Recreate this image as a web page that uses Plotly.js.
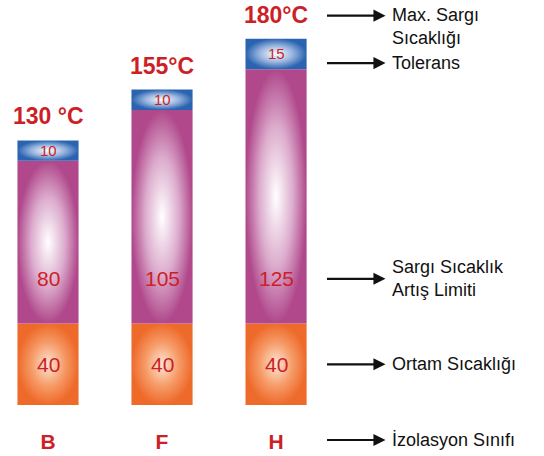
<!DOCTYPE html>
<html>
<head>
<meta charset="utf-8">
<script src="https://cdn.plot.ly/plotly-3.0.1.min.js"></script>
<style>html,body{margin:0;padding:0;background:#fff;}#chart{width:544px;height:456px;}</style>
</head>
<body>
<div id="chart"></div>
<script>
// ---- data ----
const classes = ['B', 'F', 'H'];
const ambient = [40, 40, 40];
const rise = [80, 105, 125];
const tolerance = [10, 10, 15];
const maxTempLabels = ['130 °C', '155°C', '180°C'];
const sideLabels = ['Max. Sargı<br>Sıcaklığı', 'Tolerans', 'Sargı Sıcaklık<br>Artış Limiti', 'Ortam Sıcaklığı', 'İzolasyon Sınıfı'];

// ---- styles ----
const RED = '#cc1f27';
const FONT = 'Arial, "Liberation Sans", sans-serif';
const halfW = 0.268;
const yMax = 199;
const pxPerUnit = 405 / yMax;
const segStyles = [
  [[0, '#fde6d6'], [0.55, '#f69a66'], [1, '#ee6a2b']],
  [[0, '#ffffff'], [0.55, '#dcaccd'], [1, '#b0488b']],
  [[0, '#ffffff'], [0.55, '#97b3de'], [1, '#2a64b0']]
];

const traces = [];
const annotations = [];
classes.forEach((c, i) => {
  const segs = [ambient[i], rise[i], tolerance[i]];
  let base = 0;
  segs.forEach((v, k) => {
    const top = base + v;
    traces.push({
      type: 'scatter', mode: 'lines',
      x: [i - halfW, i + halfW, i + halfW, i - halfW, i - halfW],
      y: [base, base, top, top, base],
      fill: 'toself', line: {width: 0},
      fillgradient: {type: 'radial', colorscale: segStyles[k]},
      hoverinfo: 'skip'
    });
    const ly = k === 1 ? base + 22 : base + v / 2;
    annotations.push({
      x: i, y: ly, xref: 'x', yref: 'y', text: String(v), showarrow: false,
      font: {family: FONT, size: k === 2 ? 15 : 21, color: RED}
    });
    base = top;
  });
  annotations.push({
    x: i, y: base, xref: 'x', yref: 'y', yanchor: 'bottom', yshift: 9,
    text: maxTempLabels[i], showarrow: false,
    font: {family: FONT, size: 23, color: RED, weight: 'bold'}
  });
});

// right side explanation arrows, referenced to the last class (H)
const h = classes.length - 1;
const hTop = ambient[h] + rise[h] + tolerance[h];
const arrowPos = [
  {y: hTop + 23 / pxPerUnit, yref: 'y', yshift: 0},
  {y: ambient[h] + rise[h] + tolerance[h] * 0.2, yref: 'y', yshift: 0},
  {y: ambient[h] + 22, yref: 'y', yshift: 0},
  {y: ambient[h] / 2, yref: 'y', yshift: 0},
  {y: 0, yref: 'paper', yshift: -35}
];
const headX = 2.96, textX = 3.0;
sideLabels.forEach((t, j) => {
  const p = arrowPos[j];
  annotations.push({
    x: headX, y: p.y, xref: 'x', yref: p.yref, yshift: p.yshift,
    ax: -60, ay: 0, text: '', showarrow: true,
    arrowhead: 2, arrowsize: 1.1, arrowwidth: 2.2, arrowcolor: '#111', standoff: 0
  });
  annotations.push({
    x: textX, y: p.y, xref: 'x', yref: p.yref,
    xanchor: 'left', yanchor: (j === 0) ? 'top' : 'middle',
    yshift: p.yshift + ((j === 0) ? 13 : 0),
    align: 'left', text: t, showarrow: false,
    font: {family: FONT, size: 18, color: '#111'}
  });
});

const layout = {
  width: 544, height: 456,
  margin: {l: 0, r: 0, t: 0, b: 51},
  paper_bgcolor: '#fff', plot_bgcolor: '#fff',
  showlegend: false,
  xaxis: {
    range: [-0.421, 4.35], showgrid: false, zeroline: false, showline: false,
    tickvals: classes.map((c, i) => i), ticktext: classes, ticks: '',
    ticklabelstandoff: 22,
    tickfont: {family: FONT, size: 21, color: RED, weight: 'bold'},
    fixedrange: true
  },
  yaxis: {range: [0, yMax], visible: false, fixedrange: true},
  annotations: annotations
};

Plotly.newPlot('chart', traces, layout, {displayModeBar: false, staticPlot: true});
</script>
</body>
</html>
